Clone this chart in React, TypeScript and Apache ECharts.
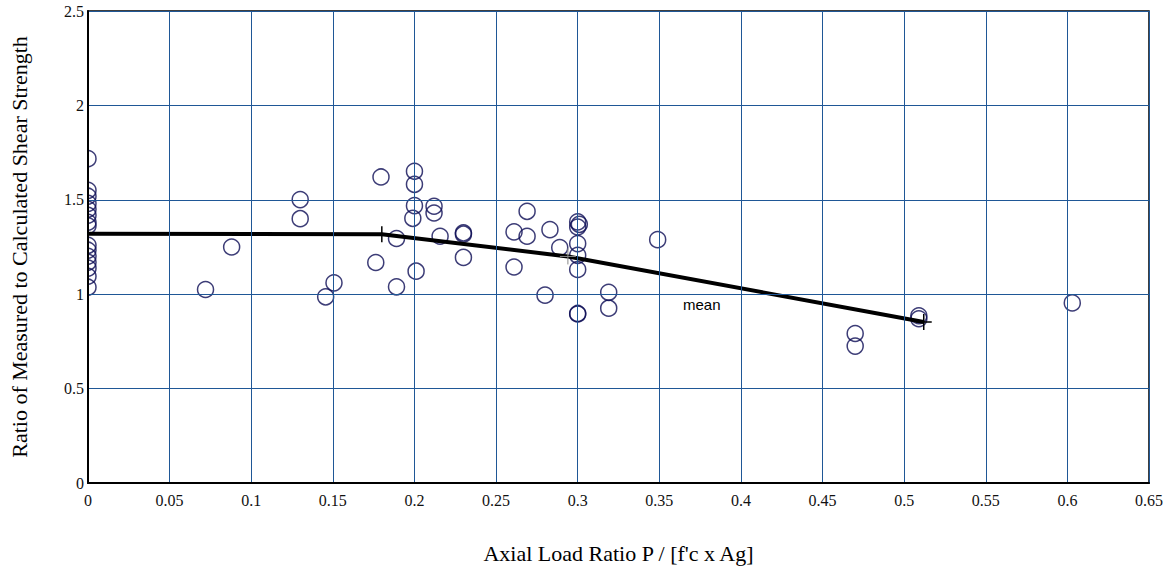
import React, { useEffect, useRef } from "react";
import * as echarts from "echarts";

const xTicks = [0, 0.05, 0.1, 0.15, 0.2, 0.25, 0.3, 0.35, 0.4, 0.45, 0.5, 0.55, 0.6, 0.65];
const yTicks = [0, 0.5, 1, 1.5, 2, 2.5];

// specimens with zero axial load
const zeroLoadRatios = [1.718, 1.55, 1.519, 1.481, 1.45, 1.418, 1.381, 1.362, 1.259, 1.233, 1.201, 1.169, 1.138, 1.095, 1.037];

// specimens with axial load [P/(f'c Ag), ratio]
const loadedPoints: [number, number][] = [
  [0.072, 1.025], [0.088, 1.25], [0.13, 1.501], [0.13, 1.4], [0.1507, 1.06], [0.1456, 0.986],
  [0.1795, 1.621], [0.1763, 1.168], [0.189, 1.295], [0.189, 1.039], [0.2, 1.651], [0.2, 1.582],
  [0.2, 1.469], [0.199, 1.402], [0.201, 1.122], [0.212, 1.466], [0.212, 1.43], [0.2157, 1.307],
  [0.23, 1.325], [0.23, 1.318], [0.23, 1.195], [0.261, 1.33], [0.261, 1.144], [0.269, 1.439],
  [0.269, 1.307], [0.283, 1.342], [0.289, 1.247], [0.28, 0.995], [0.3, 1.383], [0.301, 1.37],
  [0.3, 1.356], [0.3, 1.268], [0.3, 1.206], [0.3, 1.131], [0.3, 0.898], [0.3, 0.895],
  [0.319, 1.01], [0.319, 0.926], [0.349, 1.289], [0.47, 0.792], [0.47, 0.725], [0.509, 0.886],
  [0.509, 0.87], [0.603, 0.954],
];

// mean trend line vertices
const meanX = [0, 0.18, 0.294, 0.512];
const meanY = [1.32, 1.317, 1.2, 0.853];

const serif = "'Liberation Serif', 'Times New Roman', serif";

export default function App() {
  const ref = useRef<HTMLDivElement>(null);
  useEffect(() => {
    if (!ref.current) return;
    const chart = echarts.init(ref.current, undefined, { renderer: "svg" });
    const scatterData = [
      ...zeroLoadRatios.map((v) => [0, v]),
      ...loadedPoints,
    ];
    const meanData = meanX.map((x, i) =>
      i === 2
        ? { value: [x, meanY[i]], itemStyle: { borderColor: "#888", borderWidth: 1 } }
        : { value: [x, meanY[i]] }
    );
    chart.setOption({
      animation: false,
      backgroundColor: "#fff",
      grid: {
        left: 88, top: 11, right: 25, bottom: 93,
        outerBoundsMode: "none", containLabel: false,
        show: true, borderColor: "#000", borderWidth: 1.5, backgroundColor: "transparent",
      },
      xAxis: {
        type: "value", min: 0, max: 0.65, interval: 0.05, z: 10,
        name: "Axial Load Ratio P / [f'c x Ag]", nameLocation: "middle", nameGap: 59,
        nameTextStyle: { fontFamily: serif, fontSize: 22, color: "#000" },
        axisLine: { show: true, lineStyle: { color: "#000", width: 2 } },
        axisTick: { show: false },
        axisLabel: {
          fontFamily: serif, fontSize: 16, color: "#111", margin: 9,
          formatter: (v: number) => { const t = xTicks.find((k) => Math.abs(k - v) < 1e-9); return String(t ?? v); },
        },
        splitLine: { show: true, lineStyle: { color: "#1f5796", width: 1 } },
      },
      yAxis: {
        type: "value", min: 0, max: 2.5, interval: 0.5, z: 10,
        name: "Ratio of Measured to Calculated Shear Strength", nameLocation: "middle", nameGap: 58, nameRotate: 90,
        nameTextStyle: { fontFamily: serif, fontSize: 22, color: "#000" },
        axisLine: { show: true, lineStyle: { color: "#000", width: 2 } },
        axisTick: { show: false },
        axisLabel: {
          fontFamily: serif, fontSize: 16, color: "#111", margin: 4, padding: [5, 0, 0, 0],
          formatter: (v: number) => { const t = yTicks.find((k) => Math.abs(k - v) < 1e-9); return String(t ?? v); },
        },
        splitLine: { show: true, lineStyle: { color: "#1f5796", width: 1 } },
      },
      graphic: [
        { type: "rect", z: 5, shape: { x: 0, y: 0, width: 87, height: 576 }, style: { fill: "#fff" } },
        {
          type: "text", left: 683, top: 297, z: 6,
          style: { text: "mean", font: "15px 'Liberation Sans', Arial, sans-serif", fill: "#000" },
        },
      ],
      series: [
        {
          type: "scatter", data: scatterData, symbol: "circle", symbolSize: 16, z: 2,
          itemStyle: { color: "rgba(0,0,0,0)", borderColor: "#0d0d55", borderWidth: 1.5 },
        },
        {
          type: "line", data: meanData, z: 3,
          lineStyle: { color: "#000", width: 4 },
          symbol: "path://M5 0 L5 10 M0 5 L10 5", symbolSize: 16, showSymbol: true,
          itemStyle: { color: "none", borderColor: "#000", borderWidth: 1.5 },
        },
      ],
    });
    return () => chart.dispose();
  }, []);
  return <div ref={ref} style={{ width: 1174, height: 576, position: "absolute", left: 0, top: 0 }} />;
}
